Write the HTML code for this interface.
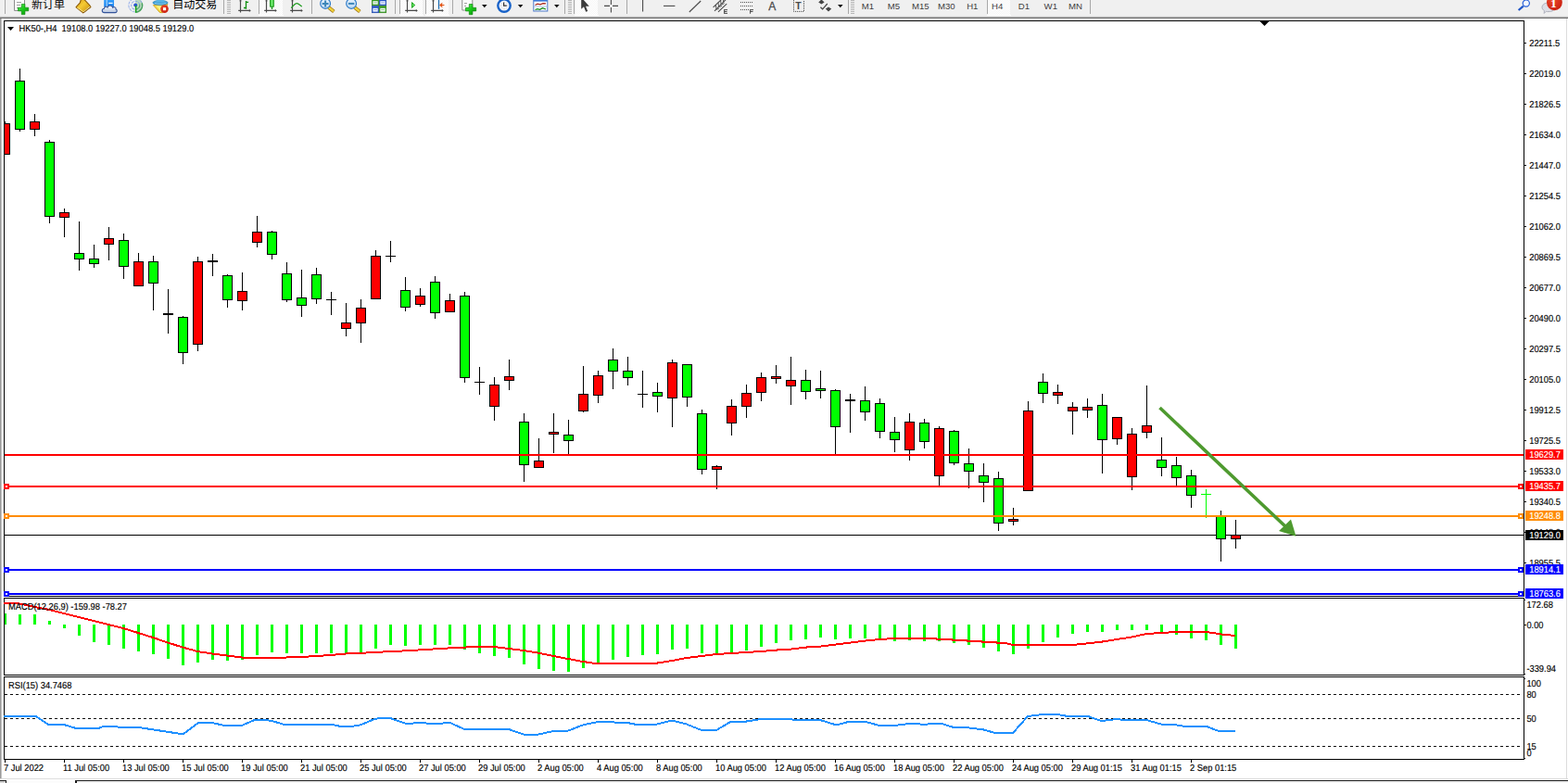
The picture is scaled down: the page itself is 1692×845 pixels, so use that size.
<!DOCTYPE html>
<html><head><meta charset="utf-8"><title>HK50-,H4</title>
<style>
html,body{margin:0;padding:0;background:#fff;}
body{width:1692px;height:845px;overflow:hidden;position:relative;font-family:"Liberation Sans", sans-serif;}
svg{position:absolute;left:0;top:0;display:block;}
#tb{position:absolute;left:0;top:0;width:1692px;height:17px;background:#f0f0f0;}
#tbl1{position:absolute;left:0;top:17px;width:1692px;height:1px;background:#e6e6e6;}
#tbl2{position:absolute;left:0;top:18px;width:1692px;height:1px;background:#b4b4b4;}
#tbl3{position:absolute;left:0;top:19px;width:1692px;height:1px;background:#6e6e6e;}
#bot{position:absolute;left:0;top:840px;width:1692px;height:1px;background:#dedede;}
#bot2{position:absolute;left:0;top:842px;width:1692px;height:3px;background:#f0f0f0;border-top:1px solid #1c1c1c;box-sizing:border-box;}
#tab0{position:absolute;left:0;top:842px;width:7px;height:3px;background:#d4d4d4;border-top:1px solid #1c1c1c;border-right:1px solid #1c1c1c;box-sizing:border-box;}
#tab1{position:absolute;left:7px;top:842px;width:74px;height:3px;background:#fcfcfc;}
#tab2{position:absolute;left:81px;top:842px;width:2px;height:3px;background:#1c1c1c;}
</style></head><body>
<div id="tb"></div><div id="tbl1"></div><div id="tbl2"></div><div id="tbl3"></div>
<div id="bot"></div><div id="bot2"></div><div id="tab0"></div><div id="tab1"></div><div id="tab2"></div>
<svg class="tbsvg" width="1692" height="17" viewBox="0 0 1692 17" style="overflow:hidden"><defs>
<linearGradient id="gG" x1="0" y1="0" x2="1" y2="1"><stop offset="0" stop-color="#58ee58"/><stop offset="0.5" stop-color="#18c818"/><stop offset="1" stop-color="#0a8a0a"/></linearGradient>
<linearGradient id="gY" x1="0" y1="0" x2="1" y2="1"><stop offset="0" stop-color="#d4940c"/><stop offset="0.42" stop-color="#f5cb34"/><stop offset="1" stop-color="#c48808"/></linearGradient>
<linearGradient id="gB" x1="0" y1="0" x2="0" y2="1"><stop offset="0" stop-color="#3aa6ff"/><stop offset="1" stop-color="#1e86f0"/></linearGradient>
<radialGradient id="gR" cx="0.4" cy="0.35" r="0.7"><stop offset="0" stop-color="#ee4a2a"/><stop offset="1" stop-color="#c81e10"/></radialGradient>
<linearGradient id="gGl" x1="0" y1="0" x2="0" y2="1"><stop offset="0" stop-color="#e8f3fc"/><stop offset="1" stop-color="#b9d6f2"/></linearGradient>
<pattern id="dot" width="2" height="2" patternUnits="userSpaceOnUse"><rect width="2" height="2" fill="#f6f6f6"/><rect width="1" height="1" fill="#ffffff"/><rect x="1" y="1" width="1" height="1" fill="#ffffff"/></pattern>
</defs><rect x="5" y="0" width="1" height="15" fill="#a8a8a8" shape-rendering="crispEdges"/><path d="M15.5 -3h8.5l2.5 2.5v12h-11z" fill="#fdfdfd" stroke="#8e8e8e" stroke-width="1"/><path d="M18 2.5h5M18 5.5h4M18 8.5h2" stroke="#a0a0a0" stroke-width="1"/><path d="M23.3 4.4h3.6v3.8h3.8v3.6h-3.8v3.8h-3.6v-3.8h-3.8v-3.6h3.8z" fill="url(#gG)" stroke="#0b8a0b" stroke-width="0.7"/><text x="34" y="9" font-size="12" fill="#000" font-family='"Liberation Sans", "Noto Sans CJK SC", sans-serif'>新订单</text><path d="M82.1 7.7L86.2 3.2L87.6 -1H90.4L96.5 5.3L97.9 7.6L89.7 13.8z" fill="url(#gY)" stroke="#8e5c06" stroke-width="1.1" stroke-linejoin="round"/><path d="M90 13.2L97.4 7.2" stroke="#e9dca0" stroke-width="1.3" fill="none"/><path d="M89.8 14L98 7.5" stroke="#8a5806" stroke-width="1" fill="none"/><path d="M83.4 8L89.8 12.6" stroke="#f6dc78" stroke-width="1.1" fill="none"/><rect x="112.2" y="-3" width="10.8" height="10.5" fill="url(#gB)"/><path d="M115.2 -1V7" stroke="#e8f4ff" stroke-width="0.8"/><path d="M117.2 3.4h4.4" stroke="#f4faff" stroke-width="1.2"/><linearGradient id="gCl" x1="0" y1="0" x2="0" y2="1"><stop offset="0" stop-color="#ffffff"/><stop offset="1" stop-color="#b4c4de"/></linearGradient><path d="M112.6 13.6c-3 0 -3.2-4 -0.2-4.4c0.2-2 2.6-2.6 3.6-1.2c0.6-2.6 5-2.8 5.600 0.200c1.600-1.400 4 0 3.400 1.700c2 0.800 1.400 3.700 -0.800 3.700z" fill="url(#gCl)" stroke="#34549a" stroke-width="1.1"/><path d="M146.2 13.6A7.9 7.9 0 0 0 146.2 -2.2z" fill="#4aae4a" opacity="0.30"/><circle cx="146.2" cy="5.7" r="7.3" fill="none" stroke="#7f9de8" stroke-width="1.1" stroke-dasharray="3 1" opacity="0.75"/><circle cx="146.2" cy="5.7" r="4.5" fill="none" stroke="#7f9de8" stroke-width="1.1" stroke-dasharray="3 1" opacity="0.8"/><path d="M146.2 13.1A7.4 7.4 0 0 0 153.2 3.2" fill="none" stroke="#2f9a3a" stroke-width="1.4" opacity="0.75"/><path d="M146.2 10.2A4.5 4.5 0 0 0 150.6 4.6" fill="none" stroke="#3fa54a" stroke-width="1.2" opacity="0.7"/><circle cx="146.2" cy="5.6" r="2" fill="#2b55d0"/><path d="M146.6 6V13.7" stroke="#17a317" stroke-width="1.5"/><path d="M165.4 5.6L181 4.6L175.4 13.7L172.4 13.5z" fill="#f7d84a" stroke="#c99a10" stroke-width="0.8"/><path d="M168.4 6.6L176.4 6.2L173.6 11.8z" fill="#fdf48a"/><ellipse cx="173" cy="2.9" rx="8.1" ry="2.5" fill="#3e9fd6" stroke="#2a7fb8" stroke-width="0.6"/><path d="M168.2 2.6C168.6 -0.5 169.6 -3 173 -3S177.4 -0.5 177.8 2.6z" fill="#5ab4e6"/><path d="M167 3.4C170 4.6 176 4.6 179.4 3.2" stroke="#9ad4f4" stroke-width="0.8" fill="none"/><circle cx="177.5" cy="9.6" r="4.3" fill="url(#gR)"/><rect x="176" y="8.2" width="3.1" height="3" fill="#fff"/><text x="186.2" y="9" font-size="12" fill="#000" font-family='"Liberation Sans", "Noto Sans CJK SC", sans-serif'>自动交易</text><rect x="241" y="0" width="1" height="15" fill="#a8a8a8" shape-rendering="crispEdges"/><rect x="245" y="0" width="4" height="1" fill="#b6b6b6" shape-rendering="crispEdges"/><rect x="245" y="2" width="4" height="1" fill="#b6b6b6" shape-rendering="crispEdges"/><rect x="245" y="4" width="4" height="1" fill="#b6b6b6" shape-rendering="crispEdges"/><rect x="245" y="6" width="4" height="1" fill="#b6b6b6" shape-rendering="crispEdges"/><rect x="245" y="8" width="4" height="1" fill="#b6b6b6" shape-rendering="crispEdges"/><rect x="245" y="10" width="4" height="1" fill="#b6b6b6" shape-rendering="crispEdges"/><rect x="245" y="12" width="4" height="1" fill="#b6b6b6" shape-rendering="crispEdges"/><rect x="245" y="14" width="4" height="1" fill="#b6b6b6" shape-rendering="crispEdges"/><path d="M259.5 0V13.6M257.2 11.45H270" stroke="#4a4a4a" stroke-width="1.2" fill="none"/><path d="M268.8 10l2 1.45l-2 1.45z" fill="#4a4a4a"/><path d="M258.2 1.2L259.5 -0.8L260.8 1.2z" fill="#4a4a4a"/><path d="M265.5 1V9.8M263 8.5h2.5M265.5 2.4h2.6" stroke="#0e8e0e" stroke-width="1.3" fill="none"/><rect x="279" y="0" width="1" height="15" fill="#a8a8a8" shape-rendering="crispEdges"/><rect x="280" y="0" width="25" height="16" fill="url(#dot)"/><rect x="279" y="16" width="27" height="1" fill="#ffffff" shape-rendering="crispEdges"/><path d="M287.5 0V13.6M285.2 11.45H298" stroke="#4a4a4a" stroke-width="1.2" fill="none"/><path d="M296.8 10l2 1.45l-2 1.45z" fill="#4a4a4a"/><path d="M286.2 1.2L287.5 -0.8L288.8 1.2z" fill="#4a4a4a"/><path d="M293.5 0V10" stroke="#0e8e0e" stroke-width="1.2"/><rect x="291.6" y="-2" width="3.7" height="9.2" fill="#66e466" stroke="#0b8a0b" stroke-width="0.9"/><path d="M315.5 0V13.6M313.2 11.45H326" stroke="#4a4a4a" stroke-width="1.2" fill="none"/><path d="M324.8 10l2 1.45l-2 1.45z" fill="#4a4a4a"/><path d="M314.2 1.2L315.5 -0.8L316.8 1.2z" fill="#4a4a4a"/><path d="M314.2 8.6C316.4 6 318.6 3.5 320.4 3.6S323.8 5.8 325.8 7" stroke="#1f9d1f" stroke-width="1.2" fill="none"/><rect x="336" y="0" width="1" height="15" fill="#a8a8a8" shape-rendering="crispEdges"/><path d="M354.70000000000005 8L360.3 12.4" stroke="#9a6c0a" stroke-width="3.8" stroke-linecap="butt"/><path d="M354.70000000000005 8L360.1 12.25" stroke="#f0d23c" stroke-width="2.4" stroke-linecap="butt"/><circle cx="351.1" cy="3.9" r="5.4" fill="url(#gGl)" stroke="#2f7cc8" stroke-width="1.15"/><path d="M347.70000000000005 3.9h6.8M351.1 0.4v7" stroke="#3c86b8" stroke-width="2"/><path d="M382.70000000000005 8L388.3 12.4" stroke="#9a6c0a" stroke-width="3.8" stroke-linecap="butt"/><path d="M382.70000000000005 8L388.1 12.25" stroke="#f0d23c" stroke-width="2.4" stroke-linecap="butt"/><circle cx="379.1" cy="3.9" r="5.4" fill="url(#gGl)" stroke="#2f7cc8" stroke-width="1.15"/><path d="M375.90000000000003 3.9h6.4" stroke="#3c86b8" stroke-width="2"/><rect x="401.3" y="-1.2" width="7.5" height="7.1" fill="#349a1c" stroke="#2a7f14" stroke-width="0.5"/><rect x="402.40000000000003" y="1.2" width="5.3" height="3.4999999999999996" fill="#f6f9ff"/><rect x="403.3" y="2.4000000000000004" width="3.5" height="0.9" fill="#349a1c" opacity="0.55"/><rect x="409.2" y="-1.2" width="7.6" height="7.1" fill="#2454c8" stroke="#1b409c" stroke-width="0.5"/><rect x="410.3" y="1.2" width="5.3999999999999995" height="3.4999999999999996" fill="#f6f9ff"/><rect x="411.2" y="2.4000000000000004" width="3.5999999999999996" height="0.9" fill="#2454c8" opacity="0.55"/><rect x="401.3" y="6.4" width="7.5" height="7.4" fill="#2454c8" stroke="#1b409c" stroke-width="0.5"/><rect x="402.40000000000003" y="8.8" width="5.3" height="3.8000000000000003" fill="#f6f9ff"/><rect x="403.3" y="10.0" width="3.5" height="0.9" fill="#2454c8" opacity="0.55"/><rect x="409.2" y="6.4" width="7.6" height="7.4" fill="#349a1c" stroke="#2a7f14" stroke-width="0.5"/><rect x="410.3" y="8.8" width="5.3999999999999995" height="3.8000000000000003" fill="#f6f9ff"/><rect x="411.2" y="10.0" width="3.5999999999999996" height="0.9" fill="#349a1c" opacity="0.55"/><rect x="426" y="0" width="1" height="15" fill="#a8a8a8" shape-rendering="crispEdges"/><rect x="431" y="0" width="1" height="15" fill="#a8a8a8" shape-rendering="crispEdges"/><rect x="432" y="0" width="24" height="16" fill="url(#dot)"/><rect x="431" y="16" width="26" height="1" fill="#ffffff" shape-rendering="crispEdges"/><path d="M439.5 0V13.6M437.2 11.45H450" stroke="#4a4a4a" stroke-width="1.2" fill="none"/><path d="M448.8 10l2 1.45l-2 1.45z" fill="#4a4a4a"/><path d="M438.2 1.2L439.5 -0.8L440.8 1.2z" fill="#4a4a4a"/><path d="M444.5 2.6V8.4L447.7 5.5z" fill="#62e062" stroke="#14a014" stroke-width="0.9" stroke-linejoin="round"/><rect x="459" y="0" width="1" height="15" fill="#a8a8a8" shape-rendering="crispEdges"/><rect x="460" y="0" width="24" height="16" fill="url(#dot)"/><rect x="459" y="16" width="26" height="1" fill="#ffffff" shape-rendering="crispEdges"/><path d="M467.5 0V13.6M465.2 11.45H478" stroke="#4a4a4a" stroke-width="1.2" fill="none"/><path d="M476.8 10l2 1.45l-2 1.45z" fill="#4a4a4a"/><path d="M466.2 1.2L467.5 -0.8L468.8 1.2z" fill="#4a4a4a"/><path d="M473.5 0V9.8" stroke="#1f6fb4" stroke-width="1.3"/><path d="M479.4 5.5H475.5M477.3 3.4L475 5.5L477.3 7.6" stroke="#e04a08" stroke-width="1.2" fill="none"/><rect x="488" y="0" width="1" height="15" fill="#a8a8a8" shape-rendering="crispEdges"/><path d="M498.8 -3h8l3 3v11h-11z" fill="#fcfcfc" stroke="#8e8e8e" stroke-width="1"/><path d="M501 3.5h3M501 6.5h2" stroke="#a0a0a0" stroke-width="1"/><path d="M506.3 4.5h3.6v3.8h3.8v3.6h-3.8v3.8h-3.6v-3.8h-3.8v-3.6h3.8z" fill="url(#gG)" stroke="#0b8a0b" stroke-width="0.7"/><path d="M520 5h5.6l-2.8 3.2z" fill="#111"/><circle cx="544" cy="6.1" r="6.7" fill="#f4f6fa" stroke="#1862c8" stroke-width="2.4"/><path d="M543.6 2.4V6.2H546.8" stroke="#333" stroke-width="1.2" fill="none"/><path d="M544 2v.8M548 6.100h-.8M544 10.200v-.8M540 6.100h.8M546.800 3.300l-.5.500M541.200 3.300l.5.500M546.800 8.900l-.5-.5M541.200 8.900l.5-.5" stroke="#9a9a9a" stroke-width="0.6" fill="none"/><path d="M558.8 5h5.6l-2.8 3.2z" fill="#111"/><rect x="575.8" y="-2" width="15" height="14" fill="#fdfdff" stroke="#4a78c8" stroke-width="1"/><rect x="575.8" y="-2" width="15" height="3.6" fill="#3a78d8"/><path d="M575.8 7H590.8" stroke="#9bb4e0" stroke-width="0.8"/><path d="M577.5 5.5L580 4.2L583 4.8L586 3.6L589 3.9" stroke="#a8281a" stroke-width="1.3" fill="none"/><path d="M577.5 10.5L580 9.6L582.5 10.3L585.5 8.6L589 10" stroke="#128a12" stroke-width="1.3" fill="none"/><path d="M598 5h5.6l-2.8 3.2z" fill="#111"/><rect x="609" y="0" width="1" height="15" fill="#a8a8a8" shape-rendering="crispEdges"/><rect x="613" y="0" width="4" height="1" fill="#b6b6b6" shape-rendering="crispEdges"/><rect x="613" y="2" width="4" height="1" fill="#b6b6b6" shape-rendering="crispEdges"/><rect x="613" y="4" width="4" height="1" fill="#b6b6b6" shape-rendering="crispEdges"/><rect x="613" y="6" width="4" height="1" fill="#b6b6b6" shape-rendering="crispEdges"/><rect x="613" y="8" width="4" height="1" fill="#b6b6b6" shape-rendering="crispEdges"/><rect x="613" y="10" width="4" height="1" fill="#b6b6b6" shape-rendering="crispEdges"/><rect x="613" y="12" width="4" height="1" fill="#b6b6b6" shape-rendering="crispEdges"/><rect x="613" y="14" width="4" height="1" fill="#b6b6b6" shape-rendering="crispEdges"/><rect x="619" y="0" width="1" height="15" fill="#a8a8a8" shape-rendering="crispEdges"/><rect x="621" y="0" width="24" height="16" fill="url(#dot)"/><rect x="620" y="16" width="26" height="1" fill="#ffffff" shape-rendering="crispEdges"/><path d="M627.2 -3V9.8L630 7.3L632.2 12.8L634.2 12L632 6.8H635.8z" fill="#3c3c3c"/><path d="M652 6.4h6M661 6.4h6M659.4 0v5M659.4 8v5.4" stroke="#4a4a4a" stroke-width="1.1" fill="none"/><rect x="676" y="0" width="1" height="15" fill="#a8a8a8" shape-rendering="crispEdges"/><path d="M693.6 0V12.6" stroke="#4a4a4a" stroke-width="1.1"/><path d="M716 6.4H728.4" stroke="#4a4a4a" stroke-width="1.1"/><path d="M743.8 13L756.2 1" stroke="#4a4a4a" stroke-width="1.1"/><path d="M769.6 7.8L778.8 -0.8M771 11.8L783.4 -0.6M775 12.9L784.2 4.200" stroke="#4a4a4a" stroke-width="1.1" fill="none"/><path d="M772.4 5.200L773 10M775 2.800L775.600 7.600M777.600 0.400L778.200 5.200M780.400 -1L780.800 2.800M773.400 10.400L776 9M776.400 7.600L779 6.200M779 5L781.600 3.600" stroke="#4a4a4a" stroke-width="0.9" fill="none"/><path d="M781.6 10.2V14.8M781.6 10.6H785M781.6 12.5H784.5M781.6 14.4H785" stroke="#3a3a3a" stroke-width="0.9" fill="none"/><path d="M799 2.5H812M799 6.5H812M799 10.5H808" stroke="#555" stroke-width="1" stroke-dasharray="1 1" fill="none"/><path d="M809.6 10.2V14.8M809.6 10.6H813M809.6 12.5H812.5" stroke="#3a3a3a" stroke-width="0.9" fill="none"/><text x="829.2" y="10.6" font-size="12" fill="#4a4a4a" stroke="#4a4a4a" stroke-width="0.3" font-family='"Liberation Sans", sans-serif'>A</text><rect x="856.5" y="-2" width="11" height="14.4" fill="none" stroke="#444" stroke-width="1" stroke-dasharray="1 1"/><text x="858.2" y="10.2" font-size="10.5" font-weight="bold" fill="#4a4a4a" font-family='"Liberation Sans", sans-serif'>T</text><path d="M883.2 2.6L886.4 -0.6L889.6 2.6L886.4 4.4zM890.8 9.4L894 7.4L897.2 9.4L894 12.6z" fill="#444"/><path d="M885.4 7.8L887.6 9.8L892.8 4" stroke="#444" stroke-width="1.2" fill="none"/><path d="M904 5h5.6l-2.8 3.2z" fill="#111"/><rect x="915" y="0" width="1" height="15" fill="#a8a8a8" shape-rendering="crispEdges"/><rect x="918" y="0" width="4" height="1" fill="#b6b6b6" shape-rendering="crispEdges"/><rect x="918" y="2" width="4" height="1" fill="#b6b6b6" shape-rendering="crispEdges"/><rect x="918" y="4" width="4" height="1" fill="#b6b6b6" shape-rendering="crispEdges"/><rect x="918" y="6" width="4" height="1" fill="#b6b6b6" shape-rendering="crispEdges"/><rect x="918" y="8" width="4" height="1" fill="#b6b6b6" shape-rendering="crispEdges"/><rect x="918" y="10" width="4" height="1" fill="#b6b6b6" shape-rendering="crispEdges"/><rect x="918" y="12" width="4" height="1" fill="#b6b6b6" shape-rendering="crispEdges"/><rect x="918" y="14" width="4" height="1" fill="#b6b6b6" shape-rendering="crispEdges"/><rect x="1066" y="0" width="24" height="16" fill="url(#dot)"/><rect x="1065" y="16" width="26" height="1" fill="#ffffff" shape-rendering="crispEdges"/><rect x="1065" y="0" width="1" height="15" fill="#a8a8a8" shape-rendering="crispEdges"/><text x="929.8" y="10" font-size="9.6" fill="#3e3e3e" font-family='"Liberation Sans", sans-serif'>M1</text><text x="957.8" y="10" font-size="9.6" fill="#3e3e3e" font-family='"Liberation Sans", sans-serif'>M5</text><text x="984" y="10" font-size="9.6" fill="#3e3e3e" font-family='"Liberation Sans", sans-serif'>M15</text><text x="1012" y="10" font-size="9.6" fill="#3e3e3e" font-family='"Liberation Sans", sans-serif'>M30</text><text x="1043.2" y="10" font-size="9.6" fill="#3e3e3e" font-family='"Liberation Sans", sans-serif'>H1</text><text x="1070" y="10" font-size="9.6" fill="#3e3e3e" font-family='"Liberation Sans", sans-serif'>H4</text><text x="1098.8" y="10" font-size="9.6" fill="#3e3e3e" font-family='"Liberation Sans", sans-serif'>D1</text><text x="1126.6" y="10" font-size="9.6" fill="#3e3e3e" font-family='"Liberation Sans", sans-serif'>W1</text><text x="1153" y="10" font-size="9.6" fill="#3e3e3e" font-family='"Liberation Sans", sans-serif'>MN</text><rect x="1176" y="0" width="1" height="15" fill="#a8a8a8" shape-rendering="crispEdges"/><path d="M1643.8 6.6L1638.6 11" stroke="#1f55c8" stroke-width="2.2" stroke-linecap="butt"/><circle cx="1646.8" cy="3.6" r="3.6" fill="#f4f7fc" stroke="#2a62d8" stroke-width="1.2"/><path d="M1664 8c0-3 3-5 7-5s7 2 7 5s-3 4.6-7 4.6c-1 0-1.8 0-2.6-.3l-2.2 2.2l.2-3c-1.4-.8-2.4-2-2.4-3.500z" fill="#dddfe6" stroke="#a9acb8" stroke-width="0.9"/><circle cx="1677.4" cy="2.8" r="8.4" fill="url(#gR)"/><text x="1676.4" y="7.8" font-size="13.5" font-weight="bold" fill="#fff" text-anchor="middle" font-family='"Liberation Serif", serif'>1</text></svg>
<svg class="cr" width="1692" height="845" viewBox="0 0 1692 845" shape-rendering="crispEdges"><rect x="0" y="20" width="1" height="820" fill="#9a9a9a"/><rect x="1" y="20" width="1" height="820" fill="#c4c4c4"/><rect x="1690" y="20" width="1" height="820" fill="#dcdcdc"/><rect x="4" y="22" width="1641" height="1" fill="#000"/><rect x="4" y="643" width="1641" height="1" fill="#000"/><rect x="4" y="22" width="1" height="622" fill="#000"/><rect x="1644" y="22" width="1" height="622" fill="#000"/><rect x="4" y="645" width="1641" height="1" fill="#000"/><rect x="4" y="728" width="1641" height="1" fill="#000"/><rect x="4" y="645" width="1" height="84" fill="#000"/><rect x="1644" y="645" width="1" height="84" fill="#000"/><rect x="4" y="730" width="1641" height="1" fill="#000"/><rect x="4" y="819" width="1641" height="1" fill="#000"/><rect x="4" y="730" width="1" height="90" fill="#000"/><rect x="1644" y="730" width="1" height="90" fill="#000"/><rect x="5" y="577" width="1639" height="1" fill="#000"/><rect x="5" y="131" width="1" height="36" fill="#000"/><rect x="4" y="133" width="7" height="34" fill="#000"/><rect x="5" y="134" width="5" height="32" fill="#ff0000"/><rect x="21" y="74" width="1" height="68" fill="#000"/><rect x="16" y="87" width="11" height="53" fill="#000"/><rect x="17" y="88" width="9" height="51" fill="#00ff00"/><rect x="37" y="123" width="1" height="24" fill="#000"/><rect x="32" y="131" width="11" height="9" fill="#000"/><rect x="33" y="132" width="9" height="7" fill="#ff0000"/><rect x="53" y="151" width="1" height="90" fill="#000"/><rect x="48" y="153" width="11" height="81" fill="#000"/><rect x="49" y="154" width="9" height="79" fill="#00ff00"/><rect x="69" y="225" width="1" height="31" fill="#000"/><rect x="64" y="229" width="11" height="6" fill="#000"/><rect x="65" y="230" width="9" height="4" fill="#ff0000"/><rect x="85" y="239" width="1" height="53" fill="#000"/><rect x="80" y="273" width="11" height="7" fill="#000"/><rect x="81" y="274" width="9" height="5" fill="#00ff00"/><rect x="101" y="264" width="1" height="25" fill="#000"/><rect x="96" y="279" width="11" height="6" fill="#000"/><rect x="97" y="280" width="9" height="4" fill="#00ff00"/><rect x="117" y="245" width="1" height="36" fill="#000"/><rect x="112" y="257" width="11" height="7" fill="#000"/><rect x="113" y="258" width="9" height="5" fill="#ff0000"/><rect x="133" y="252" width="1" height="49" fill="#000"/><rect x="128" y="259" width="11" height="29" fill="#000"/><rect x="129" y="260" width="9" height="27" fill="#00ff00"/><rect x="149" y="273" width="1" height="36" fill="#000"/><rect x="144" y="282" width="11" height="27" fill="#000"/><rect x="145" y="283" width="9" height="25" fill="#ff0000"/><rect x="165" y="276" width="1" height="59" fill="#000"/><rect x="160" y="282" width="11" height="24" fill="#000"/><rect x="161" y="283" width="9" height="22" fill="#00ff00"/><rect x="181" y="312" width="1" height="48" fill="#000"/><rect x="176" y="338" width="11" height="2" fill="#000"/><rect x="197" y="341" width="1" height="52" fill="#000"/><rect x="192" y="342" width="11" height="39" fill="#000"/><rect x="193" y="343" width="9" height="37" fill="#00ff00"/><rect x="213" y="277" width="1" height="102" fill="#000"/><rect x="208" y="282" width="11" height="90" fill="#000"/><rect x="209" y="283" width="9" height="88" fill="#ff0000"/><rect x="229" y="274" width="1" height="24" fill="#000"/><rect x="224" y="281" width="11" height="2" fill="#000"/><rect x="245" y="296" width="1" height="36" fill="#000"/><rect x="240" y="297" width="11" height="27" fill="#000"/><rect x="241" y="298" width="9" height="25" fill="#00ff00"/><rect x="261" y="294" width="1" height="41" fill="#000"/><rect x="256" y="314" width="11" height="11" fill="#000"/><rect x="257" y="315" width="9" height="9" fill="#ff0000"/><rect x="277" y="233" width="1" height="34" fill="#000"/><rect x="272" y="250" width="11" height="12" fill="#000"/><rect x="273" y="251" width="9" height="10" fill="#ff0000"/><rect x="293" y="249" width="1" height="31" fill="#000"/><rect x="288" y="250" width="11" height="25" fill="#000"/><rect x="289" y="251" width="9" height="23" fill="#00ff00"/><rect x="309" y="283" width="1" height="43" fill="#000"/><rect x="304" y="295" width="11" height="29" fill="#000"/><rect x="305" y="296" width="9" height="27" fill="#00ff00"/><rect x="325" y="291" width="1" height="51" fill="#000"/><rect x="320" y="321" width="11" height="9" fill="#000"/><rect x="321" y="322" width="9" height="7" fill="#00ff00"/><rect x="341" y="289" width="1" height="39" fill="#000"/><rect x="336" y="296" width="11" height="27" fill="#000"/><rect x="337" y="297" width="9" height="25" fill="#00ff00"/><rect x="357" y="315" width="1" height="25" fill="#000"/><rect x="352" y="323" width="11" height="1" fill="#000"/><rect x="373" y="327" width="1" height="36" fill="#000"/><rect x="368" y="348" width="11" height="7" fill="#000"/><rect x="369" y="349" width="9" height="5" fill="#ff0000"/><rect x="389" y="323" width="1" height="47" fill="#000"/><rect x="384" y="332" width="11" height="17" fill="#000"/><rect x="385" y="333" width="9" height="15" fill="#ff0000"/><rect x="405" y="270" width="1" height="53" fill="#000"/><rect x="400" y="276" width="11" height="47" fill="#000"/><rect x="401" y="277" width="9" height="45" fill="#ff0000"/><rect x="421" y="260" width="1" height="23" fill="#000"/><rect x="416" y="276" width="11" height="1" fill="#000"/><rect x="437" y="299" width="1" height="37" fill="#000"/><rect x="432" y="313" width="11" height="19" fill="#000"/><rect x="433" y="314" width="9" height="17" fill="#00ff00"/><rect x="453" y="311" width="1" height="20" fill="#000"/><rect x="448" y="319" width="11" height="10" fill="#000"/><rect x="449" y="320" width="9" height="8" fill="#ff0000"/><rect x="469" y="298" width="1" height="46" fill="#000"/><rect x="464" y="304" width="11" height="34" fill="#000"/><rect x="465" y="305" width="9" height="32" fill="#00ff00"/><rect x="485" y="317" width="1" height="20" fill="#000"/><rect x="480" y="324" width="11" height="13" fill="#000"/><rect x="481" y="325" width="9" height="11" fill="#ff0000"/><rect x="501" y="315" width="1" height="98" fill="#000"/><rect x="496" y="319" width="11" height="89" fill="#000"/><rect x="497" y="320" width="9" height="87" fill="#00ff00"/><rect x="517" y="396" width="1" height="30" fill="#000"/><rect x="512" y="412" width="11" height="1" fill="#000"/><rect x="533" y="407" width="1" height="47" fill="#000"/><rect x="528" y="415" width="11" height="24" fill="#000"/><rect x="529" y="416" width="9" height="22" fill="#ff0000"/><rect x="549" y="388" width="1" height="33" fill="#000"/><rect x="544" y="406" width="11" height="5" fill="#000"/><rect x="545" y="407" width="9" height="3" fill="#ff0000"/><rect x="565" y="446" width="1" height="74" fill="#000"/><rect x="560" y="455" width="11" height="47" fill="#000"/><rect x="561" y="456" width="9" height="45" fill="#00ff00"/><rect x="581" y="473" width="1" height="32" fill="#000"/><rect x="576" y="497" width="11" height="8" fill="#000"/><rect x="577" y="498" width="9" height="6" fill="#ff0000"/><rect x="597" y="446" width="1" height="43" fill="#000"/><rect x="592" y="466" width="11" height="3" fill="#000"/><rect x="593" y="467" width="9" height="1" fill="#ff0000"/><rect x="613" y="453" width="1" height="37" fill="#000"/><rect x="608" y="469" width="11" height="7" fill="#000"/><rect x="609" y="470" width="9" height="5" fill="#00ff00"/><rect x="629" y="395" width="1" height="50" fill="#000"/><rect x="624" y="425" width="11" height="19" fill="#000"/><rect x="625" y="426" width="9" height="17" fill="#ff0000"/><rect x="645" y="400" width="1" height="35" fill="#000"/><rect x="640" y="405" width="11" height="22" fill="#000"/><rect x="641" y="406" width="9" height="20" fill="#ff0000"/><rect x="661" y="376" width="1" height="44" fill="#000"/><rect x="656" y="388" width="11" height="13" fill="#000"/><rect x="657" y="389" width="9" height="11" fill="#00ff00"/><rect x="677" y="385" width="1" height="31" fill="#000"/><rect x="672" y="400" width="11" height="8" fill="#000"/><rect x="673" y="401" width="9" height="6" fill="#00ff00"/><rect x="693" y="400" width="1" height="40" fill="#000"/><rect x="688" y="425" width="11" height="1" fill="#000"/><rect x="709" y="413" width="1" height="32" fill="#000"/><rect x="704" y="423" width="11" height="5" fill="#000"/><rect x="705" y="424" width="9" height="3" fill="#00ff00"/><rect x="725" y="388" width="1" height="73" fill="#000"/><rect x="720" y="391" width="11" height="39" fill="#000"/><rect x="721" y="392" width="9" height="37" fill="#ff0000"/><rect x="741" y="393" width="1" height="46" fill="#000"/><rect x="736" y="393" width="11" height="36" fill="#000"/><rect x="737" y="394" width="9" height="34" fill="#00ff00"/><rect x="757" y="442" width="1" height="70" fill="#000"/><rect x="752" y="446" width="11" height="61" fill="#000"/><rect x="753" y="447" width="9" height="59" fill="#00ff00"/><rect x="773" y="502" width="1" height="26" fill="#000"/><rect x="768" y="503" width="11" height="4" fill="#000"/><rect x="769" y="504" width="9" height="2" fill="#ff0000"/><rect x="789" y="431" width="1" height="39" fill="#000"/><rect x="784" y="438" width="11" height="19" fill="#000"/><rect x="785" y="439" width="9" height="17" fill="#ff0000"/><rect x="805" y="415" width="1" height="36" fill="#000"/><rect x="800" y="424" width="11" height="15" fill="#000"/><rect x="801" y="425" width="9" height="13" fill="#ff0000"/><rect x="821" y="402" width="1" height="31" fill="#000"/><rect x="816" y="407" width="11" height="17" fill="#000"/><rect x="817" y="408" width="9" height="15" fill="#ff0000"/><rect x="837" y="394" width="1" height="20" fill="#000"/><rect x="832" y="406" width="11" height="3" fill="#000"/><rect x="833" y="407" width="9" height="1" fill="#ff0000"/><rect x="853" y="385" width="1" height="52" fill="#000"/><rect x="848" y="410" width="11" height="7" fill="#000"/><rect x="849" y="411" width="9" height="5" fill="#ff0000"/><rect x="869" y="399" width="1" height="32" fill="#000"/><rect x="864" y="410" width="11" height="13" fill="#000"/><rect x="865" y="411" width="9" height="11" fill="#00ff00"/><rect x="885" y="400" width="1" height="30" fill="#000"/><rect x="880" y="419" width="11" height="3" fill="#000"/><rect x="881" y="420" width="9" height="1" fill="#00ff00"/><rect x="901" y="420" width="1" height="70" fill="#000"/><rect x="896" y="421" width="11" height="40" fill="#000"/><rect x="897" y="422" width="9" height="38" fill="#00ff00"/><rect x="917" y="425" width="1" height="42" fill="#000"/><rect x="912" y="431" width="11" height="2" fill="#000"/><rect x="933" y="417" width="1" height="37" fill="#000"/><rect x="928" y="432" width="11" height="13" fill="#000"/><rect x="929" y="433" width="9" height="11" fill="#00ff00"/><rect x="949" y="430" width="1" height="43" fill="#000"/><rect x="944" y="435" width="11" height="31" fill="#000"/><rect x="945" y="436" width="9" height="29" fill="#00ff00"/><rect x="965" y="450" width="1" height="38" fill="#000"/><rect x="960" y="466" width="11" height="9" fill="#000"/><rect x="961" y="467" width="9" height="7" fill="#00ff00"/><rect x="981" y="446" width="1" height="51" fill="#000"/><rect x="976" y="455" width="11" height="31" fill="#000"/><rect x="977" y="456" width="9" height="29" fill="#ff0000"/><rect x="997" y="452" width="1" height="32" fill="#000"/><rect x="992" y="456" width="11" height="21" fill="#000"/><rect x="993" y="457" width="9" height="19" fill="#00ff00"/><rect x="1013" y="460" width="1" height="64" fill="#000"/><rect x="1008" y="462" width="11" height="52" fill="#000"/><rect x="1009" y="463" width="9" height="50" fill="#ff0000"/><rect x="1029" y="464" width="1" height="38" fill="#000"/><rect x="1024" y="465" width="11" height="35" fill="#000"/><rect x="1025" y="466" width="9" height="33" fill="#00ff00"/><rect x="1045" y="484" width="1" height="43" fill="#000"/><rect x="1040" y="500" width="11" height="9" fill="#000"/><rect x="1041" y="501" width="9" height="7" fill="#00ff00"/><rect x="1061" y="500" width="1" height="42" fill="#000"/><rect x="1056" y="513" width="11" height="8" fill="#000"/><rect x="1057" y="514" width="9" height="6" fill="#00ff00"/><rect x="1077" y="509" width="1" height="64" fill="#000"/><rect x="1072" y="516" width="11" height="49" fill="#000"/><rect x="1073" y="517" width="9" height="47" fill="#00ff00"/><rect x="1093" y="548" width="1" height="19" fill="#000"/><rect x="1088" y="560" width="11" height="3" fill="#000"/><rect x="1089" y="561" width="9" height="1" fill="#ff0000"/><rect x="1109" y="433" width="1" height="97" fill="#000"/><rect x="1104" y="443" width="11" height="87" fill="#000"/><rect x="1105" y="444" width="9" height="85" fill="#ff0000"/><rect x="1125" y="403" width="1" height="32" fill="#000"/><rect x="1120" y="412" width="11" height="13" fill="#000"/><rect x="1121" y="413" width="9" height="11" fill="#00ff00"/><rect x="1141" y="415" width="1" height="21" fill="#000"/><rect x="1136" y="423" width="11" height="4" fill="#000"/><rect x="1137" y="424" width="9" height="2" fill="#ff0000"/><rect x="1157" y="434" width="1" height="35" fill="#000"/><rect x="1152" y="439" width="11" height="5" fill="#000"/><rect x="1153" y="440" width="9" height="3" fill="#ff0000"/><rect x="1173" y="430" width="1" height="21" fill="#000"/><rect x="1168" y="439" width="11" height="4" fill="#000"/><rect x="1169" y="440" width="9" height="2" fill="#ff0000"/><rect x="1189" y="425" width="1" height="86" fill="#000"/><rect x="1184" y="437" width="11" height="38" fill="#000"/><rect x="1185" y="438" width="9" height="36" fill="#00ff00"/><rect x="1205" y="450" width="1" height="30" fill="#000"/><rect x="1200" y="450" width="11" height="24" fill="#000"/><rect x="1201" y="451" width="9" height="22" fill="#ff0000"/><rect x="1221" y="462" width="1" height="67" fill="#000"/><rect x="1216" y="468" width="11" height="47" fill="#000"/><rect x="1217" y="469" width="9" height="45" fill="#ff0000"/><rect x="1237" y="416" width="1" height="57" fill="#000"/><rect x="1232" y="459" width="11" height="8" fill="#000"/><rect x="1233" y="460" width="9" height="6" fill="#ff0000"/><rect x="1253" y="472" width="1" height="42" fill="#000"/><rect x="1248" y="496" width="11" height="9" fill="#000"/><rect x="1249" y="497" width="9" height="7" fill="#00ff00"/><rect x="1269" y="493" width="1" height="31" fill="#000"/><rect x="1264" y="502" width="11" height="14" fill="#000"/><rect x="1265" y="503" width="9" height="12" fill="#00ff00"/><rect x="1285" y="507" width="1" height="41" fill="#000"/><rect x="1280" y="513" width="11" height="22" fill="#000"/><rect x="1281" y="514" width="9" height="20" fill="#00ff00"/><rect x="1301" y="528" width="1" height="31" fill="#00ff00"/><rect x="1296" y="533" width="11" height="1" fill="#00ff00"/><rect x="1317" y="551" width="1" height="55" fill="#000"/><rect x="1312" y="557" width="11" height="25" fill="#000"/><rect x="1313" y="558" width="9" height="23" fill="#00ff00"/><rect x="1333" y="561" width="1" height="31" fill="#000"/><rect x="1328" y="577" width="11" height="5" fill="#000"/><rect x="1329" y="578" width="9" height="3" fill="#ff0000"/><rect x="5" y="490" width="1639" height="2" fill="#ff0000"/><rect x="5" y="524" width="1639" height="2" fill="#ff0000"/><rect x="5" y="556" width="1639" height="2" fill="#ff8c00"/><rect x="5" y="614" width="1639" height="2" fill="#0000ff"/><rect x="5" y="640" width="1639" height="2" fill="#0000ff"/><rect x="4" y="522" width="6" height="6" fill="#ff0000"/><rect x="6" y="524" width="2" height="2" fill="#fff"/><rect x="1638" y="522" width="6" height="6" fill="#ff0000"/><rect x="1640" y="524" width="2" height="2" fill="#fff"/><rect x="4" y="554" width="6" height="6" fill="#ff8c00"/><rect x="6" y="556" width="2" height="2" fill="#fff"/><rect x="1638" y="554" width="6" height="6" fill="#ff8c00"/><rect x="1640" y="556" width="2" height="2" fill="#fff"/><rect x="4" y="612" width="6" height="6" fill="#0000ff"/><rect x="6" y="614" width="2" height="2" fill="#fff"/><rect x="1638" y="612" width="6" height="6" fill="#0000ff"/><rect x="1640" y="614" width="2" height="2" fill="#fff"/><rect x="4" y="638" width="6" height="6" fill="#0000ff"/><rect x="6" y="640" width="2" height="2" fill="#fff"/><rect x="1638" y="638" width="6" height="6" fill="#0000ff"/><rect x="1640" y="640" width="2" height="2" fill="#fff"/><rect x="5" y="662" width="2" height="12" fill="#00ff00"/><rect x="20" y="663" width="3" height="11" fill="#00ff00"/><rect x="36" y="663" width="3" height="11" fill="#00ff00"/><rect x="52" y="670" width="3" height="4" fill="#00ff00"/><rect x="68" y="674" width="3" height="4" fill="#00ff00"/><rect x="84" y="674" width="3" height="12" fill="#00ff00"/><rect x="100" y="674" width="3" height="19" fill="#00ff00"/><rect x="116" y="674" width="3" height="22" fill="#00ff00"/><rect x="132" y="674" width="3" height="26" fill="#00ff00"/><rect x="148" y="674" width="3" height="29" fill="#00ff00"/><rect x="164" y="674" width="3" height="32" fill="#00ff00"/><rect x="180" y="674" width="3" height="37" fill="#00ff00"/><rect x="196" y="674" width="3" height="44" fill="#00ff00"/><rect x="212" y="674" width="3" height="41" fill="#00ff00"/><rect x="228" y="674" width="3" height="38" fill="#00ff00"/><rect x="244" y="674" width="3" height="39" fill="#00ff00"/><rect x="260" y="674" width="3" height="38" fill="#00ff00"/><rect x="276" y="674" width="3" height="33" fill="#00ff00"/><rect x="292" y="674" width="3" height="30" fill="#00ff00"/><rect x="308" y="674" width="3" height="31" fill="#00ff00"/><rect x="324" y="674" width="3" height="31" fill="#00ff00"/><rect x="340" y="674" width="3" height="31" fill="#00ff00"/><rect x="356" y="674" width="3" height="31" fill="#00ff00"/><rect x="372" y="674" width="3" height="32" fill="#00ff00"/><rect x="388" y="674" width="3" height="31" fill="#00ff00"/><rect x="404" y="674" width="3" height="26" fill="#00ff00"/><rect x="420" y="674" width="3" height="22" fill="#00ff00"/><rect x="436" y="674" width="3" height="23" fill="#00ff00"/><rect x="452" y="674" width="3" height="22" fill="#00ff00"/><rect x="468" y="674" width="3" height="22" fill="#00ff00"/><rect x="484" y="674" width="3" height="22" fill="#00ff00"/><rect x="500" y="674" width="3" height="27" fill="#00ff00"/><rect x="516" y="674" width="3" height="31" fill="#00ff00"/><rect x="532" y="674" width="3" height="34" fill="#00ff00"/><rect x="548" y="674" width="3" height="36" fill="#00ff00"/><rect x="564" y="674" width="3" height="43" fill="#00ff00"/><rect x="580" y="674" width="3" height="48" fill="#00ff00"/><rect x="596" y="674" width="3" height="50" fill="#00ff00"/><rect x="612" y="674" width="3" height="51" fill="#00ff00"/><rect x="628" y="674" width="3" height="47" fill="#00ff00"/><rect x="644" y="674" width="3" height="41" fill="#00ff00"/><rect x="660" y="674" width="3" height="38" fill="#00ff00"/><rect x="676" y="674" width="3" height="35" fill="#00ff00"/><rect x="692" y="674" width="3" height="33" fill="#00ff00"/><rect x="708" y="674" width="3" height="32" fill="#00ff00"/><rect x="724" y="674" width="3" height="27" fill="#00ff00"/><rect x="740" y="674" width="3" height="26" fill="#00ff00"/><rect x="756" y="674" width="3" height="31" fill="#00ff00"/><rect x="772" y="674" width="3" height="33" fill="#00ff00"/><rect x="788" y="674" width="3" height="31" fill="#00ff00"/><rect x="804" y="674" width="3" height="28" fill="#00ff00"/><rect x="820" y="674" width="3" height="24" fill="#00ff00"/><rect x="836" y="674" width="3" height="20" fill="#00ff00"/><rect x="852" y="674" width="3" height="17" fill="#00ff00"/><rect x="868" y="674" width="3" height="16" fill="#00ff00"/><rect x="884" y="674" width="3" height="14" fill="#00ff00"/><rect x="900" y="674" width="3" height="16" fill="#00ff00"/><rect x="916" y="674" width="3" height="15" fill="#00ff00"/><rect x="932" y="674" width="3" height="15" fill="#00ff00"/><rect x="948" y="674" width="3" height="16" fill="#00ff00"/><rect x="964" y="674" width="3" height="18" fill="#00ff00"/><rect x="980" y="674" width="3" height="17" fill="#00ff00"/><rect x="996" y="674" width="3" height="18" fill="#00ff00"/><rect x="1012" y="674" width="3" height="18" fill="#00ff00"/><rect x="1028" y="674" width="3" height="20" fill="#00ff00"/><rect x="1044" y="674" width="3" height="22" fill="#00ff00"/><rect x="1060" y="674" width="3" height="25" fill="#00ff00"/><rect x="1076" y="674" width="3" height="29" fill="#00ff00"/><rect x="1092" y="674" width="3" height="32" fill="#00ff00"/><rect x="1108" y="674" width="3" height="26" fill="#00ff00"/><rect x="1124" y="674" width="3" height="19" fill="#00ff00"/><rect x="1140" y="674" width="3" height="14" fill="#00ff00"/><rect x="1156" y="674" width="3" height="10" fill="#00ff00"/><rect x="1172" y="674" width="3" height="8" fill="#00ff00"/><rect x="1188" y="674" width="3" height="8" fill="#00ff00"/><rect x="1204" y="674" width="3" height="6" fill="#00ff00"/><rect x="1220" y="674" width="3" height="6" fill="#00ff00"/><rect x="1236" y="674" width="3" height="6" fill="#00ff00"/><rect x="1252" y="674" width="3" height="8" fill="#00ff00"/><rect x="1268" y="674" width="3" height="11" fill="#00ff00"/><rect x="1284" y="674" width="3" height="15" fill="#00ff00"/><rect x="1300" y="674" width="3" height="17" fill="#00ff00"/><rect x="1316" y="674" width="3" height="22" fill="#00ff00"/><rect x="1332" y="674" width="3" height="26" fill="#00ff00"/><path d="M5 749.5H1642" stroke="#000" stroke-width="1" stroke-dasharray="3 3" fill="none"/><path d="M5 775.5H1642" stroke="#000" stroke-width="1" stroke-dasharray="3 3" fill="none"/><path d="M5 805.5H1642" stroke="#000" stroke-width="1" stroke-dasharray="3 3" fill="none"/><rect x="1645" y="46" width="2" height="1" fill="#000"/><rect x="1645" y="79" width="2" height="1" fill="#000"/><rect x="1645" y="112" width="2" height="1" fill="#000"/><rect x="1645" y="145" width="2" height="1" fill="#000"/><rect x="1645" y="178" width="2" height="1" fill="#000"/><rect x="1645" y="211" width="2" height="1" fill="#000"/><rect x="1645" y="244" width="2" height="1" fill="#000"/><rect x="1645" y="277" width="2" height="1" fill="#000"/><rect x="1645" y="310" width="2" height="1" fill="#000"/><rect x="1645" y="343" width="2" height="1" fill="#000"/><rect x="1645" y="376" width="2" height="1" fill="#000"/><rect x="1645" y="409" width="2" height="1" fill="#000"/><rect x="1645" y="442" width="2" height="1" fill="#000"/><rect x="1645" y="475" width="2" height="1" fill="#000"/><rect x="1645" y="508" width="2" height="1" fill="#000"/><rect x="1645" y="541" width="2" height="1" fill="#000"/><rect x="1645" y="574" width="2" height="1" fill="#000"/><rect x="1645" y="607" width="2" height="1" fill="#000"/><rect x="1645" y="674" width="2" height="1" fill="#000"/><rect x="1645" y="647" width="1" height="1" fill="#000"/><rect x="1645" y="727" width="1" height="1" fill="#000"/><rect x="1645" y="732" width="1" height="1" fill="#000"/><rect x="1645" y="818" width="1" height="1" fill="#000"/><rect x="5" y="820" width="1" height="3" fill="#000"/><rect x="69" y="820" width="1" height="3" fill="#000"/><rect x="133" y="820" width="1" height="3" fill="#000"/><rect x="197" y="820" width="1" height="3" fill="#000"/><rect x="261" y="820" width="1" height="3" fill="#000"/><rect x="325" y="820" width="1" height="3" fill="#000"/><rect x="389" y="820" width="1" height="3" fill="#000"/><rect x="453" y="820" width="1" height="3" fill="#000"/><rect x="517" y="820" width="1" height="3" fill="#000"/><rect x="581" y="820" width="1" height="3" fill="#000"/><rect x="645" y="820" width="1" height="3" fill="#000"/><rect x="709" y="820" width="1" height="3" fill="#000"/><rect x="773" y="820" width="1" height="3" fill="#000"/><rect x="837" y="820" width="1" height="3" fill="#000"/><rect x="901" y="820" width="1" height="3" fill="#000"/><rect x="965" y="820" width="1" height="3" fill="#000"/><rect x="1029" y="820" width="1" height="3" fill="#000"/><rect x="1093" y="820" width="1" height="3" fill="#000"/><rect x="1157" y="820" width="1" height="3" fill="#000"/><rect x="1221" y="820" width="1" height="3" fill="#000"/><rect x="1285" y="820" width="1" height="3" fill="#000"/></svg>
<svg class="sm" width="1692" height="845" viewBox="0 0 1692 845" text-rendering="geometricPrecision" font-family='"Liberation Sans", sans-serif'><path d="M4 651 L21 651.5 L40 655.5 L53 658 L69 662 L85 666 L101 670 L117 674 L133 678 L149 683 L165 688 L181 693.5 L197 698.5 L213 703 L229 705.5 L245 707.5 L261 709.5 L277 709.5 L293 709.5 L309 709.5 L325 709 L341 708 L357 707 L373 705.5 L389 704.8 L405 704 L421 703 L437 702.4 L453 701.4 L469 700.4 L485 699.4 L501 698.6 L517 698 L533 698 L549 700 L565 702 L581 704.6 L597 708 L613 711 L629 714 L640 715.6 L661 715.6 L709 715.6 L725 713 L741 710 L757 708 L773 706 L789 705 L805 704 L821 703 L837 701.6 L853 700.6 L869 698.6 L885 697.6 L901 695.6 L917 693.6 L933 691.6 L949 690 L965 689 L981 688.6 L997 689 L1013 689.6 L1029 690.6 L1045 691.6 L1061 692.6 L1077 693.6 L1088 694.6 L1093 696 L1157 696 L1173 694.4 L1189 692.6 L1205 690 L1221 687.6 L1237 684 L1253 683 L1269 682 L1301 682 L1309 683 L1317 684.4 L1333 686" stroke="#ff0000" stroke-width="2" fill="none" stroke-linejoin="round" shape-rendering="crispEdges"/><path d="M4 773 L39 773 L52 782 L69 782 L82 786 L106 786 L113 783.6 L125.6 783.6 L128 785 L149.6 785 L192.6 791.6 L198.4 791.6 L214.2 780 L229 780 L240.7 782.7 L261.4 782.7 L275.4 776.6 L284.5 776.6 L293.6 778 L306 781.7 L330 781.7 L357.4 781.7 L366 783.6 L381 783.6 L389 782.4 L405 775.6 L421 775 L437 780.6 L445 780.6 L453 779.6 L461 780.6 L477 780.6 L485 779.6 L501 787 L549 787 L565 792.6 L581 792.6 L597 789 L613 788.6 L629 782.4 L645 779 L656 778.6 L664 779.6 L677 780 L685 781.6 L709 781.6 L725 777.6 L741 781.6 L757 788 L773 788 L789 778.6 L805 778.6 L821 776 L853 776 L857 777 L885 777 L901 782 L904 782 L917 778.6 L933 778.6 L949 783 L965 783 L981 781 L989 781 L997 782 L1005 781 L1016 781 L1029 785 L1045 785.4 L1061 787.4 L1074 791 L1093 791 L1109 773 L1125 771 L1141 771 L1150 772.6 L1173 772.6 L1187 777.6 L1192 777.6 L1205 776 L1213 777 L1237 777 L1253 781.6 L1269 782.4 L1277 783.6 L1301 783.6 L1314 788.6 L1333 788.6" stroke="#1e90ff" stroke-width="2" fill="none" stroke-linejoin="round" shape-rendering="crispEdges"/><path d="M1251.5 440 L1388 569" stroke="#4e9a2f" stroke-width="3.6" fill="none"/><path d="M1398.5 578.7 L1380 573 L1393 560.5 Z" fill="#4e9a2f"/><path d="M1359.5 23h10l-5 5z" fill="#000"/><path d="M8 29h7l-3.5 4z" fill="#000"/><text transform="translate(20.5 34) scale(0.915 1)" font-size="10.2" fill="#000" stroke="#000" stroke-width="0.15" text-anchor="start">HK50-,H4&#160;&#160;19108.0 19227.0 19048.5 19129.0</text><text transform="translate(9 658) scale(0.915 1)" font-size="10.2" fill="#000" stroke="#000" stroke-width="0.15" text-anchor="start">MACD(12,26,9) -159.98 -78.27</text><text transform="translate(9 743) scale(0.915 1)" font-size="10.2" fill="#000" stroke="#000" stroke-width="0.15" text-anchor="start">RSI(15) 34.7468</text><text transform="translate(1650.2 50) scale(0.915 1)" font-size="10.2" fill="#000" stroke="#000" stroke-width="0.15" text-anchor="start">22211.5</text><text transform="translate(1650.2 83) scale(0.915 1)" font-size="10.2" fill="#000" stroke="#000" stroke-width="0.15" text-anchor="start">22019.0</text><text transform="translate(1650.2 116) scale(0.915 1)" font-size="10.2" fill="#000" stroke="#000" stroke-width="0.15" text-anchor="start">21826.5</text><text transform="translate(1650.2 149) scale(0.915 1)" font-size="10.2" fill="#000" stroke="#000" stroke-width="0.15" text-anchor="start">21634.0</text><text transform="translate(1650.2 182) scale(0.915 1)" font-size="10.2" fill="#000" stroke="#000" stroke-width="0.15" text-anchor="start">21447.0</text><text transform="translate(1650.2 215) scale(0.915 1)" font-size="10.2" fill="#000" stroke="#000" stroke-width="0.15" text-anchor="start">21254.5</text><text transform="translate(1650.2 248) scale(0.915 1)" font-size="10.2" fill="#000" stroke="#000" stroke-width="0.15" text-anchor="start">21062.0</text><text transform="translate(1650.2 281) scale(0.915 1)" font-size="10.2" fill="#000" stroke="#000" stroke-width="0.15" text-anchor="start">20869.5</text><text transform="translate(1650.2 314) scale(0.915 1)" font-size="10.2" fill="#000" stroke="#000" stroke-width="0.15" text-anchor="start">20677.0</text><text transform="translate(1650.2 347) scale(0.915 1)" font-size="10.2" fill="#000" stroke="#000" stroke-width="0.15" text-anchor="start">20490.0</text><text transform="translate(1650.2 380) scale(0.915 1)" font-size="10.2" fill="#000" stroke="#000" stroke-width="0.15" text-anchor="start">20297.5</text><text transform="translate(1650.2 413) scale(0.915 1)" font-size="10.2" fill="#000" stroke="#000" stroke-width="0.15" text-anchor="start">20105.0</text><text transform="translate(1650.2 446) scale(0.915 1)" font-size="10.2" fill="#000" stroke="#000" stroke-width="0.15" text-anchor="start">19912.5</text><text transform="translate(1650.2 479) scale(0.915 1)" font-size="10.2" fill="#000" stroke="#000" stroke-width="0.15" text-anchor="start">19725.5</text><text transform="translate(1650.2 512) scale(0.915 1)" font-size="10.2" fill="#000" stroke="#000" stroke-width="0.15" text-anchor="start">19533.0</text><text transform="translate(1650.2 545) scale(0.915 1)" font-size="10.2" fill="#000" stroke="#000" stroke-width="0.15" text-anchor="start">19340.5</text><text transform="translate(1650.2 578) scale(0.915 1)" font-size="10.2" fill="#000" stroke="#000" stroke-width="0.15" text-anchor="start">19148.0</text><text transform="translate(1650.2 611) scale(0.915 1)" font-size="10.2" fill="#000" stroke="#000" stroke-width="0.15" text-anchor="start">18955.5</text><rect x="1646" y="485" width="41" height="11" fill="#ff0000" shape-rendering="crispEdges"/><text transform="translate(1650.2 494) scale(0.915 1)" font-size="10.2" fill="#fff" stroke="#fff" stroke-width="0.15" text-anchor="start">19629.7</text><rect x="1646" y="519" width="41" height="11" fill="#ff0000" shape-rendering="crispEdges"/><text transform="translate(1650.2 528) scale(0.915 1)" font-size="10.2" fill="#fff" stroke="#fff" stroke-width="0.15" text-anchor="start">19435.7</text><rect x="1646" y="551" width="41" height="11" fill="#ff8c00" shape-rendering="crispEdges"/><text transform="translate(1650.2 560) scale(0.915 1)" font-size="10.2" fill="#fff" stroke="#fff" stroke-width="0.15" text-anchor="start">19248.8</text><rect x="1646" y="572" width="41" height="11" fill="#000000" shape-rendering="crispEdges"/><text transform="translate(1650.2 581) scale(0.915 1)" font-size="10.2" fill="#fff" stroke="#fff" stroke-width="0.15" text-anchor="start">19129.0</text><rect x="1646" y="609" width="41" height="11" fill="#0000ff" shape-rendering="crispEdges"/><text transform="translate(1650.2 618) scale(0.915 1)" font-size="10.2" fill="#fff" stroke="#fff" stroke-width="0.15" text-anchor="start">18914.1</text><rect x="1646" y="635" width="41" height="11" fill="#0000ff" shape-rendering="crispEdges"/><text transform="translate(1650.2 644) scale(0.915 1)" font-size="10.2" fill="#fff" stroke="#fff" stroke-width="0.15" text-anchor="start">18763.6</text><text transform="translate(1647.4 656) scale(0.915 1)" font-size="10.2" fill="#000" stroke="#000" stroke-width="0.15" text-anchor="start">172.68</text><text transform="translate(1647.4 678) scale(0.915 1)" font-size="10.2" fill="#000" stroke="#000" stroke-width="0.15" text-anchor="start">0.00</text><text transform="translate(1647.4 725) scale(0.915 1)" font-size="10.2" fill="#000" stroke="#000" stroke-width="0.15" text-anchor="start">-339.94</text><text transform="translate(1647.4 741) scale(0.915 1)" font-size="10.2" fill="#000" stroke="#000" stroke-width="0.15" text-anchor="start">100</text><text transform="translate(1647.4 753) scale(0.915 1)" font-size="10.2" fill="#000" stroke="#000" stroke-width="0.15" text-anchor="start">80</text><text transform="translate(1647.4 779) scale(0.915 1)" font-size="10.2" fill="#000" stroke="#000" stroke-width="0.15" text-anchor="start">50</text><text transform="translate(1647.4 809) scale(0.915 1)" font-size="10.2" fill="#000" stroke="#000" stroke-width="0.15" text-anchor="start">15</text><text transform="translate(1647.4 816) scale(0.915 1)" font-size="10.2" fill="#000" stroke="#000" stroke-width="0.15" text-anchor="start">0</text><text transform="translate(4 832) scale(0.915 1)" font-size="10.2" fill="#000" stroke="#000" stroke-width="0.15" text-anchor="start">7 Jul 2022</text><text transform="translate(68 832) scale(0.915 1)" font-size="10.2" fill="#000" stroke="#000" stroke-width="0.15" text-anchor="start">11 Jul 05:00</text><text transform="translate(132 832) scale(0.915 1)" font-size="10.2" fill="#000" stroke="#000" stroke-width="0.15" text-anchor="start">13 Jul 05:00</text><text transform="translate(196 832) scale(0.915 1)" font-size="10.2" fill="#000" stroke="#000" stroke-width="0.15" text-anchor="start">15 Jul 05:00</text><text transform="translate(260 832) scale(0.915 1)" font-size="10.2" fill="#000" stroke="#000" stroke-width="0.15" text-anchor="start">19 Jul 05:00</text><text transform="translate(324 832) scale(0.915 1)" font-size="10.2" fill="#000" stroke="#000" stroke-width="0.15" text-anchor="start">21 Jul 05:00</text><text transform="translate(388 832) scale(0.915 1)" font-size="10.2" fill="#000" stroke="#000" stroke-width="0.15" text-anchor="start">25 Jul 05:00</text><text transform="translate(452 832) scale(0.915 1)" font-size="10.2" fill="#000" stroke="#000" stroke-width="0.15" text-anchor="start">27 Jul 05:00</text><text transform="translate(516 832) scale(0.915 1)" font-size="10.2" fill="#000" stroke="#000" stroke-width="0.15" text-anchor="start">29 Jul 05:00</text><text transform="translate(580 832) scale(0.915 1)" font-size="10.2" fill="#000" stroke="#000" stroke-width="0.15" text-anchor="start">2 Aug 05:00</text><text transform="translate(644 832) scale(0.915 1)" font-size="10.2" fill="#000" stroke="#000" stroke-width="0.15" text-anchor="start">4 Aug 05:00</text><text transform="translate(708 832) scale(0.915 1)" font-size="10.2" fill="#000" stroke="#000" stroke-width="0.15" text-anchor="start">8 Aug 05:00</text><text transform="translate(772 832) scale(0.915 1)" font-size="10.2" fill="#000" stroke="#000" stroke-width="0.15" text-anchor="start">10 Aug 05:00</text><text transform="translate(836 832) scale(0.915 1)" font-size="10.2" fill="#000" stroke="#000" stroke-width="0.15" text-anchor="start">12 Aug 05:00</text><text transform="translate(900 832) scale(0.915 1)" font-size="10.2" fill="#000" stroke="#000" stroke-width="0.15" text-anchor="start">16 Aug 05:00</text><text transform="translate(964 832) scale(0.915 1)" font-size="10.2" fill="#000" stroke="#000" stroke-width="0.15" text-anchor="start">18 Aug 05:00</text><text transform="translate(1028 832) scale(0.915 1)" font-size="10.2" fill="#000" stroke="#000" stroke-width="0.15" text-anchor="start">22 Aug 05:00</text><text transform="translate(1092 832) scale(0.915 1)" font-size="10.2" fill="#000" stroke="#000" stroke-width="0.15" text-anchor="start">24 Aug 05:00</text><text transform="translate(1156 832) scale(0.915 1)" font-size="10.2" fill="#000" stroke="#000" stroke-width="0.15" text-anchor="start">29 Aug 01:15</text><text transform="translate(1220 832) scale(0.915 1)" font-size="10.2" fill="#000" stroke="#000" stroke-width="0.15" text-anchor="start">31 Aug 01:15</text><text transform="translate(1284 832) scale(0.915 1)" font-size="10.2" fill="#000" stroke="#000" stroke-width="0.15" text-anchor="start">2 Sep 01:15</text></svg>
</body></html>
